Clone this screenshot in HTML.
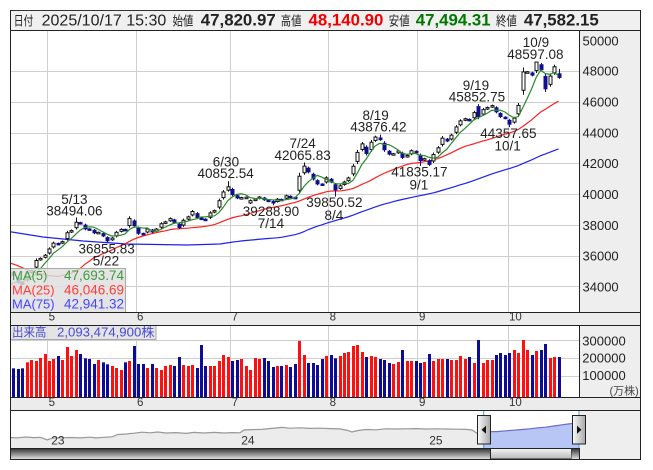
<!DOCTYPE html>
<html><head><meta charset="utf-8">
<style>
html,body{margin:0;padding:0;background:#fff;}
svg{display:block;font-family:"Liberation Sans","Noto Sans CJK JP",sans-serif;}
</style></head><body>
<svg id="c" width="653" height="470" viewBox="0 0 653 470" xmlns="http://www.w3.org/2000/svg">
<defs>
<linearGradient id="sb" x1="0" y1="0" x2="0" y2="1"><stop offset="0" stop-color="#3a3a3a"/><stop offset="1" stop-color="#dedede"/></linearGradient>
<linearGradient id="th" x1="0" y1="0" x2="0" y2="1"><stop offset="0" stop-color="#f6f6f6"/><stop offset="1" stop-color="#b8b8b8"/></linearGradient>
<linearGradient id="hd" x1="0" y1="0" x2="1" y2="0"><stop offset="0" stop-color="#fafafa"/><stop offset="1" stop-color="#a8a8a8"/></linearGradient>
<clipPath id="cp"><rect x="11" y="31" width="568" height="281"/></clipPath>
<clipPath id="vp"><rect x="11" y="326" width="568" height="71"/></clipPath>
</defs>

<!-- header -->
<rect x="10.5" y="10.5" width="630" height="20" fill="#f0f0f0" stroke="#333"/>
<g font-size="13" fill="#222">
<text x="13.7" y="25.5" textLength="19.6" lengthAdjust="spacingAndGlyphs">日付</text>
<text x="172.6" y="25.5" textLength="20.7" lengthAdjust="spacingAndGlyphs">始値</text>
<text x="280.7" y="25.5" textLength="20.8" lengthAdjust="spacingAndGlyphs">高値</text>
<text x="388.8" y="25.5" textLength="20.8" lengthAdjust="spacingAndGlyphs">安値</text>
<text x="496" y="25.5" textLength="20.8" lengthAdjust="spacingAndGlyphs">終値</text>
</g>
<text x="41.6" y="25.5" font-size="15.5" fill="#222" textLength="124.7" lengthAdjust="spacingAndGlyphs">2025/10/17 15:30</text>
<g font-size="16.5" font-weight="bold">
<text x="200.8" y="25.5" fill="#222" textLength="74.9" lengthAdjust="spacingAndGlyphs">47,820.97</text>
<text x="308.5" y="25.5" fill="#f00000" textLength="74.9" lengthAdjust="spacingAndGlyphs">48,140.90</text>
<text x="415.8" y="25.5" fill="#007800" textLength="74.8" lengthAdjust="spacingAndGlyphs">47,494.31</text>
<text x="523.9" y="25.5" fill="#222" textLength="74.9" lengthAdjust="spacingAndGlyphs">47,582.15</text>
</g>

<!-- panel backgrounds -->
<rect x="11" y="31" width="568" height="281" fill="#fff"/>
<rect x="580" y="31" width="60" height="281" fill="#eeeeee"/>
<rect x="11" y="313" width="629" height="12" fill="#ececec"/>
<rect x="11" y="326" width="568" height="71" fill="#fff"/>
<rect x="580" y="326" width="60" height="71" fill="#eeeeee"/>
<rect x="11" y="398" width="629" height="12" fill="#ececec"/>
<rect x="11" y="411" width="568" height="37" fill="#fff"/>
<rect x="580" y="411" width="60" height="48" fill="#eeeeee"/>

<!-- grid lines main -->
<g stroke="#cfcfcf" stroke-width="1" shape-rendering="crispEdges">
<line x1="11" x2="579" y1="71.5" y2="71.5"/>
<line x1="11" x2="579" y1="102.5" y2="102.5"/>
<line x1="11" x2="579" y1="133.5" y2="133.5"/>
<line x1="11" x2="579" y1="163.5" y2="163.5"/>
<line x1="11" x2="579" y1="194.5" y2="194.5"/>
<line x1="11" x2="579" y1="225.5" y2="225.5"/>
<line x1="11" x2="579" y1="256.5" y2="256.5"/>
<line x1="11" x2="579" y1="286.5" y2="286.5"/>
<line x1="47.5" x2="47.5" y1="31" y2="312"/>
<line x1="136.5" x2="136.5" y1="31" y2="312"/>
<line x1="230.5" x2="230.5" y1="31" y2="312"/>
<line x1="328.5" x2="328.5" y1="31" y2="312"/>
<line x1="417.5" x2="417.5" y1="31" y2="312"/>
<line x1="508.5" x2="508.5" y1="31" y2="312"/>
<!-- volume grid -->
<line x1="11" x2="579" y1="340.5" y2="340.5"/>
<line x1="11" x2="579" y1="358.5" y2="358.5"/>
<line x1="11" x2="579" y1="376.5" y2="376.5"/>
<line x1="47.5" x2="47.5" y1="326" y2="397"/>
<line x1="136.5" x2="136.5" y1="326" y2="397"/>
<line x1="230.5" x2="230.5" y1="326" y2="397"/>
<line x1="328.5" x2="328.5" y1="326" y2="397"/>
<line x1="417.5" x2="417.5" y1="326" y2="397"/>
<line x1="508.5" x2="508.5" y1="326" y2="397"/>
</g>

<g id="mainG" clip-path="url(#cp)"></g>
<g id="volG" clip-path="url(#vp)"></g>

<!-- annotations -->
<g font-size="13.5" fill="#222">
<text x="61.2" y="203.8">5/13</text>
<text x="46.2" y="215.3">38494.06</text>
<text x="78.5" y="253.5">36855.83</text>
<text x="92.8" y="265.6">5/22</text>
<text x="212.8" y="166.5">6/30</text>
<text x="197.5" y="178.1">40852.54</text>
<text x="289.5" y="148.1">7/24</text>
<text x="274.5" y="159.8">42065.83</text>
<text x="242.8" y="216.1">39288.90</text>
<text x="257.8" y="228.1">7/14</text>
<text x="306.2" y="207.1">39850.52</text>
<text x="324.5" y="219.8">8/4</text>
<text x="362.5" y="119.8">8/19</text>
<text x="350.2" y="131.5">43876.42</text>
<text x="391.2" y="176.5">41835.17</text>
<text x="409.5" y="189.5">9/1</text>
<text x="522.8" y="47">10/9</text>
<text x="507.2" y="59">48597.08</text>
<text x="462.8" y="89.8">9/19</text>
<text x="448.8" y="101.5">45852.75</text>
<text x="480.2" y="138.1">44357.65</text>
<text x="494.5" y="150.5">10/1</text>
</g>

<!-- MA legend box -->
<rect x="10.5" y="268.5" width="115" height="44" fill="#dedede" fill-opacity="0.82" stroke="#a8a8a8"/>
<g font-size="13">
<text x="12" y="280" fill="#3f9a3f">MA(5)</text>
<text x="124" y="280" fill="#3f9a3f" text-anchor="end" font-size="13.5">47,693.74</text>
<text x="12" y="294.5" fill="#ff3c3c">MA(25)</text>
<text x="124" y="294.5" fill="#ff3c3c" text-anchor="end" font-size="13.5">46,046.69</text>
<text x="12" y="308.5" fill="#4646ff">MA(75)</text>
<text x="124" y="308.5" fill="#4646ff" text-anchor="end" font-size="13.5">42,941.32</text>
</g>

<!-- volume legend box -->
<rect x="10.5" y="325.5" width="145.5" height="14" fill="#dedede" fill-opacity="0.82" stroke="#a8a8a8"/>
<g fill="#4a4ad2" font-size="12.5">
<text x="12" y="336.5" textLength="34.5" lengthAdjust="spacingAndGlyphs">出来高</text>
<text x="57" y="336.5" textLength="97.5" lengthAdjust="spacingAndGlyphs">2,093,474,900株</text>
</g>

<!-- price axis labels -->
<g font-size="13" fill="#222">
<text x="582.5" y="45.6">50000</text>
<text x="582.5" y="75.7">48000</text>
<text x="582.5" y="106.6">46000</text>
<text x="582.5" y="137.4">44000</text>
<text x="582.5" y="168.2">42000</text>
<text x="582.5" y="199">40000</text>
<text x="582.5" y="229.8">38000</text>
<text x="582.5" y="260.6">36000</text>
<text x="582.5" y="291.4">34000</text>
<text x="582.3" y="345.4">300000</text>
<text x="582.3" y="362.7">200000</text>
<text x="582.3" y="380.1">100000</text>
</g>
<text x="609.5" y="394.5" font-size="11" fill="#444">(万株)</text>

<!-- date labels -->
<g font-size="11.5" fill="#333">
<text x="48.6" y="320.7">5</text>
<text x="137" y="320.7">6</text>
<text x="231.6" y="320.7">7</text>
<text x="329.6" y="320.7">8</text>
<text x="419" y="320.7">9</text>
<text x="509" y="320.7">10</text>
<text x="48.6" y="406">5</text>
<text x="137" y="406">6</text>
<text x="231.6" y="406">7</text>
<text x="329.6" y="406">8</text>
<text x="419" y="406">9</text>
<text x="509" y="406">10</text>
</g>

<!-- navigator -->
<path id="navGray" fill="#ececec" stroke="none" d=""/>
<path id="navBlue" fill="#b7c6f5" stroke="none" d=""/>
<path id="navGrayL" fill="none" stroke="#989898" stroke-width="1.2" d=""/>
<path id="navBlueL" fill="none" stroke="#6a6acc" stroke-width="1.2" d=""/>
<g font-size="12" fill="#333">
<text x="51.2" y="444.5">23</text>
<text x="241.2" y="444.5">24</text>
<text x="429.2" y="444.5">25</text>
</g>
<line x1="483.7" x2="483.7" y1="411" y2="448" stroke="#3aa0e0" stroke-width="1"/>
<line x1="579" x2="579" y1="411" y2="448" stroke="#3aa0e0" stroke-width="1"/>

<!-- scrollbar -->
<rect x="11" y="449" width="479.5" height="10" fill="url(#sb)"/>
<rect x="490.5" y="448.5" width="81" height="10.5" fill="url(#th)" stroke="#222"/>
<rect x="571.5" y="449" width="8" height="10" fill="url(#sb)"/>

<!-- handles -->
<rect x="477.5" y="415.5" width="13" height="28.5" fill="url(#hd)" stroke="#222"/>
<polygon points="481.5,429.7 486,425.7 486,433.7" fill="#111"/>
<rect x="572.5" y="415.5" width="13" height="28.5" fill="url(#hd)" stroke="#222"/>
<polygon points="581.5,429.7 577,425.7 577,433.7" fill="#111"/>

<!-- frame lines -->
<g stroke="#222" stroke-width="1" shape-rendering="crispEdges" fill="none">
<line x1="10" x2="641" y1="30.5" y2="30.5"/>
<line x1="10" x2="641" y1="312.5" y2="312.5"/>
<line x1="10" x2="641" y1="325.5" y2="325.5"/>
<line x1="10" x2="641" y1="397.5" y2="397.5"/>
<line x1="10" x2="641" y1="410.5" y2="410.5"/>
<line x1="10" x2="580" y1="448.5" y2="448.5"/>
<line x1="10" x2="641" y1="459.5" y2="459.5"/>
<line x1="10.5" x2="10.5" y1="10" y2="460"/>
<line x1="640.5" x2="640.5" y1="10" y2="460"/>
<line x1="579.5" x2="579.5" y1="30" y2="313"/>
<line x1="579.5" x2="579.5" y1="325" y2="398"/>
<line x1="579.5" x2="579.5" y1="448" y2="460"/>
</g>
</svg>

<script>
(function(){
var NS="http://www.w3.org/2000/svg";
function el(tag,a,p){var e=document.createElementNS(NS,tag);for(var k in a)e.setAttribute(k,a[k]);p.appendChild(e);return e;}
var pre=[36790,37053,37396,37845,37751,37677,37608,37780,38027,37799,37120,35617,35624,35725,34735,33780,31136,33012,31714,34609,33585,33982,34267,33920,34377];
var C=[34730.28,34279.92,34220.60,34868.63,35039.15,35705.74,35839.99,36045.38,
36452.30,36830.69,36779.66,36928.63,37503.33,37644.26,38183.26,38128.13,37755.51,37753.72,37498.63,37529.49,37298.98,36985.87,37160.47,37531.53,37724.11,37722.40,38432.98,37965.10,
37470.67,37446.81,37747.45,37554.49,37741.61,38088.57,38211.51,38421.19,38173.09,37834.25,38311.33,38536.74,38885.15,38488.34,38403.23,38354.09,38790.56,38942.07,39584.58,40150.79,40487.39,
39986.33,39762.48,39785.90,39810.88,39587.68,39688.81,39821.28,39646.36,39569.68,39459.62,39678.02,39663.40,39901.19,39819.11,39774.92,41171.32,41826.34,41456.23,40998.27,40674.55,40654.70,41069.82,
40799.60,40290.70,40549.54,40794.86,41059.15,41820.48,42718.17,43274.67,42649.26,43378.31,43714.31,43546.29,42888.55,42610.17,42633.29,42807.82,42394.40,42520.27,42828.79,42718.47,
42188.79,42310.49,41938.89,42580.27,43018.75,43643.81,43459.29,43837.67,44372.50,44768.12,44902.27,44790.38,45303.43,45045.81,45493.66,45630.31,45754.93,45354.99,45043.75,44932.63,
44550.85,44936.73,45769.50,47944.76,47950.88,47734.99,48580.44,48088.80,46847.32,47672.67,48277.74,47582.15];
var U="bbbrrrrrrr"+"brrrrbbbbr"+"bbrrrbrbbb"+"rbrrrrbbrr"+"rbbbrrrrrb"+"brrrrrbbbr"+"brbbrrbbbb"+"rbbrrrrrrb"+"rrbbbrrbrr"+"bbrbrrrbrr"+"rrbrbrrrbb"+"bbrrrrbrbb"+"rrb";
var VT=[175,177,175,157,150,153,144,132,153,147,138,150,111,138,120,132,145,147,162,150,157,163,168,174,180,157,153,108,162,162,174,162,174,180,168,165,168,141,165,168,165,174,105,168,168,168,153,135,141,153,150,147,168,180,144,147,144,153,171,168,168,165,171,162,93,135,159,159,165,147,138,135,145,138,129,126,108,105,126,141,138,141,147,150,159,162,156,120,153,153,153,159,156,132,153,147,147,147,150,150,138,147,141,159,90,159,150,150,135,129,135,129,120,129,90,120,135,123,120,102,144,141,141];
var X=function(i){return 49+i*4.47;};
var Y=function(p){return 194.3-(p-40000)*0.015407;};
var all=pre.concat(C);
function close(i){return all[i+33];}
var mg=document.getElementById('mainG'), vg=document.getElementById('volG');
function ma(n,i){var s=0;for(var k=0;k<n;k++){s+=close(i-k);}return s/n;}
var p75=[[10,231.7],[43,237],[83,241],[127,244],[187,245],[220,244]];
for(var i=41;i<=114;i++){p75.push([X(i),Y(ma(75,i))]);}
var p25=[],p5=[];
for(var i=-9;i<=114;i++){p25.push([X(i),Y(ma(25,i))]);p5.push([X(i),Y(ma(5,i))]);}
function pts(a){return a.map(function(q){return q[0].toFixed(2)+","+q[1].toFixed(2);}).join(" ");}
el('polyline',{points:pts(p75),fill:'none',stroke:'#2020f0','stroke-width':'1.2'},mg);
el('polyline',{points:pts(p25),fill:'none',stroke:'#ff2020','stroke-width':'1.2'},mg);
var ov={6:{h:38494.06},13:{l:36855.83},40:{h:40852.54},50:{l:39288.90},57:{h:42065.83},64:{l:39850.52},74:{h:43876.42},83:{l:41835.17},96:{h:45852.75,o:45690},103:{l:44357.65},106:{o:46750},109:{h:48597.08},114:{o:47820.97,h:48140.90,l:47494.31}};
var NAVY='#10108c';
for(var k=0;k<123;k++){
  var i=k-8,c=C[k],p=k>0?C[k-1]:34377.60,up=U.charAt(k)==='r',o;
  if(up){o=c>p?p+0.35*(c-p):c-(0.4*(p-c)+60);}
  else{o=c<p?p-0.35*(p-c):c+0.4*(c-p)+60;}
  var q=ov[i]||{};
  if(q.o!==undefined)o=q.o;
  var b=Math.abs(c-o),h=Math.max(o,c)+0.2*b+50,l=Math.min(o,c)-0.2*b-50;
  if(q.h!==undefined)h=q.h; if(q.l!==undefined)l=q.l;
  var r=Math.round(X(i));
  var col=up?'#111':NAVY;
  el('line',{x1:r+0.5,x2:r+0.5,y1:Y(h).toFixed(2),y2:Y(l).toFixed(2),stroke:col,'stroke-width':1},mg);
  var yt=Y(Math.max(o,c)),yb=Y(Math.min(o,c));
  var hh=Math.max(yb-yt,1.5);
  if(up){
    el('rect',{x:r-1,y:yt.toFixed(2),width:3,height:hh.toFixed(2),fill:'#fff',stroke:'#111','stroke-width':1},mg);
  }else{
    el('rect',{x:r-1.5,y:(yt-0.5).toFixed(2),width:4,height:(hh+1).toFixed(2),fill:NAVY},mg);
  }
  var vy=310+VT[k]/3;
  el('rect',{x:r-1,y:vy.toFixed(2),width:3,height:(397-vy).toFixed(2),fill:up?'#ff1010':'#0c0c96'},vg);
}
el('polyline',{points:pts(p5),fill:'none',stroke:'#2a8a2a','stroke-width':'1.2'},mg);
var gray=[[10,437.5],[18,437.8],[26,437],[34,437.6],[40,437.3],[44,438.6],[47,440],[52,438.2],[60,437.8],[70,437.5],[80,437.9],[90,437.2],[96,437.9],[104,437.3],[112,436.8],[118,434.5],[126,434],[134,433.2],[142,432.2],[150,432.8],[158,432],[166,433],[176,432.6],[186,433.4],[194,432.4],[204,433],[214,432.4],[224,433],[232,432.6],[240,432.8],[244,430],[252,429.6],[262,429.4],[272,428.4],[282,427.4],[290,428.2],[300,427.8],[310,428.4],[320,428.2],[330,428.6],[340,428.9],[348,430.5],[352,432],[358,430.5],[366,429.5],[376,429.8],[386,428.8],[396,429],[406,428.8],[416,428.6],[426,429],[436,428.8],[446,429],[456,429.2],[466,429.4],[472,430],[477,433.3],[483.7,432.2]];
var blue=[[483.7,432.2],[490,431.7],[498,431.5],[506,430.8],[514,430.2],[522,429.5],[530,428.8],[538,427.8],[546,427.2],[554,426],[562,424.8],[568,424],[575,423.2],[579,423]];
function d(a){return "M"+a.map(function(q){return q[0]+","+q[1];}).join(" L");}
document.getElementById('navGrayL').setAttribute('d',d(gray));
document.getElementById('navGray').setAttribute('d',d(gray)+" L483.7,448 L11,448 Z");
document.getElementById('navBlueL').setAttribute('d',d(blue));
document.getElementById('navBlue').setAttribute('d',d(blue)+" L579,448 L483.7,448 Z");
})();
</script>
</body></html>
